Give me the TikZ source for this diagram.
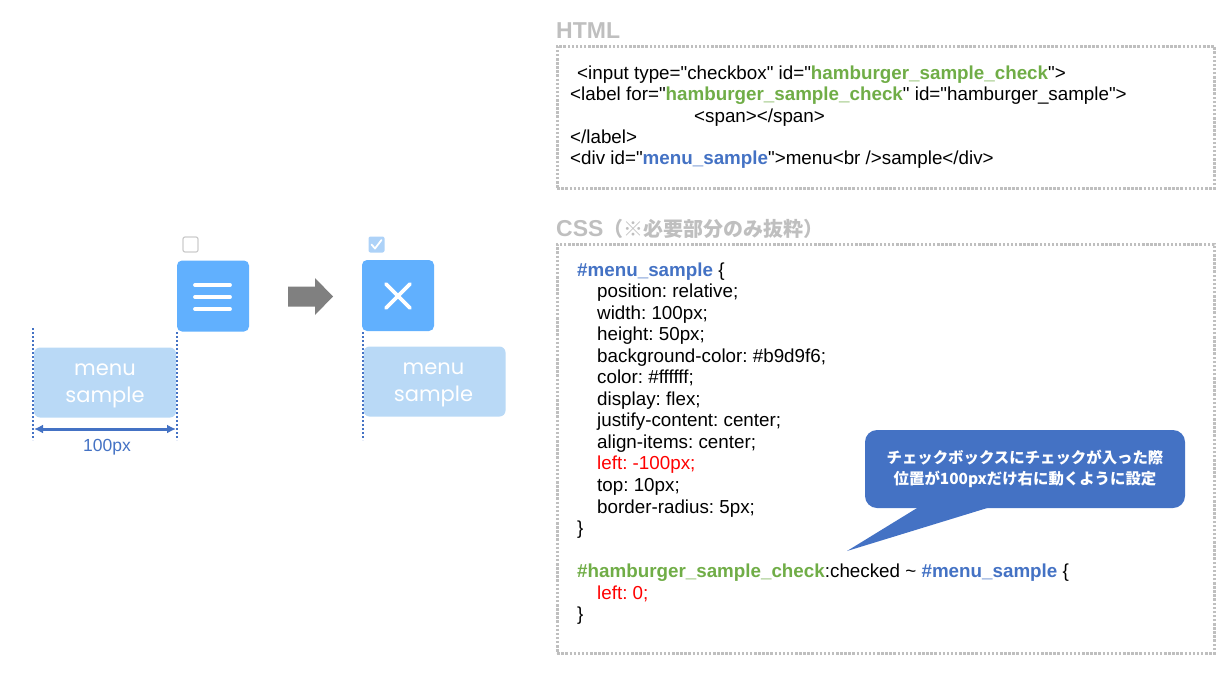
\documentclass[tikz,border=0pt]{standalone}
\usepackage{fontspec}
\setmainfont{Liberation Sans}[Ligatures=TeXOff]
\newfontfamily\jp{Noto Sans CJK JP}
\newfontfamily\pop{Poppins}
\usetikzlibrary{arrows.meta}
\definecolor{cgreen}{HTML}{70AD47}
\definecolor{cblue}{HTML}{4472C4}
\definecolor{cred}{HTML}{FF0000}
\definecolor{cgray}{HTML}{BFBFBF}
\definecolor{btnblue}{HTML}{61B0FE}
\definecolor{menubg}{HTML}{B9D9F6}
\definecolor{chkbg}{HTML}{ADD2F8}
\definecolor{arrowgray}{HTML}{808080}
\newcommand\grn[1]{\textcolor{cgreen}{\textbf{#1}}}
\newcommand\blu[1]{\textcolor{cblue}{\textbf{#1}}}
\newcommand\rd[1]{\textcolor{cred}{#1}}
\frenchspacing
\tikzset{
 code/.style={anchor=base west, inner sep=0pt, font=\fontsize{18.8}{22}\selectfont, text=black},
 ttl/.style={anchor=base west, inner sep=0pt, font=\bfseries\fontsize{23}{26}\selectfont, text=cgray},
 codebox/.style={draw=cgray, line width=2.5pt, dash pattern=on 2.5pt off 1.6pt, anchor=north west, inner sep=0pt},
 btn/.style={fill=btnblue, rounded corners=5pt, minimum width=72pt, minimum height=71pt, inner sep=0pt},
 menubox/.style={fill=menubg, rounded corners=6pt, minimum width=142pt, minimum height=70pt, inner sep=0pt},
 menutext/.style={text=white, align=center, inner sep=0pt, font=\pop\fontsize{21}{27}\selectfont},
 guide/.style={draw=cblue, line width=2.2pt, dash pattern=on 2.2pt off 1.8pt},
 icon/.style={draw=white, line width=3.8pt, line cap=round},
}
\begin{document}
\begin{tikzpicture}[x=1pt,y=-1pt]
\useasboundingbox (0,0) rectangle (1222,680);

% ---------- left illustration ----------
\node[draw=black!20, line width=1.2pt, rounded corners=2pt, minimum size=15pt, inner sep=0pt] (cbA) at (190.5,244.5) {};
\node[fill=chkbg, rounded corners=2pt, minimum size=16pt, inner sep=0pt] (cbB) at (376.5,244.5) {};
\draw[white, line width=1.8pt, line cap=round, line join=round] (371.5,244.5) -- (375,248.5) -- (381.5,240);

\node[btn] (ham) at (213,296) {};
\draw[icon] (195,285) -- (230,285);
\draw[icon] (195,297) -- (230,297);
\draw[icon] (195,309) -- (230,309);

\fill[arrowgray] (288,286.5) -- (315,286.5) -- (315,278) -- (333,296.5) -- (315,315) -- (315,306.5) -- (288,306.5) -- cycle;

\node[btn] (xbtn) at (398,295.5) {};
\draw[icon] (386,284) -- (410,308);
\draw[icon] (410,284) -- (386,308);

\node[menubox] (menuL) at (105,382.5) {};
\node[menutext] (menuLt) at (105,386) {menu\\sample};
\node[menubox] (menuR) at (434.5,381.5) {};
\node[menutext] (menuRt) at (433.5,385) {menu\\sample};

\coordinate (gA1) at (33,328);  \coordinate (gA2) at (33,440);
\coordinate (gB1) at (177,332); \coordinate (gB2) at (177,440);
\coordinate (gC1) at (363,332); \coordinate (gC2) at (363,440);
\draw[guide] (gA1) -- (gA2);
\draw[guide] (gB1) -- (gB2);
\draw[guide] (gC1) -- (gC2);

\coordinate (dimL) at (34,429);
\coordinate (dimR) at (176,429);
\draw[cblue, line width=3pt, {Latex[length=9pt,width=9pt]}-{Latex[length=9pt,width=9pt]}] (dimL) -- (dimR);
\node[text=cblue, inner sep=0pt, font=\fontsize{17.5}{19}\selectfont] (dimlbl) at (107,447) {100px};

% ---------- HTML ----------
\node[ttl] (htmlt) at (556,38) {HTML};
\node[codebox, minimum width=657pt, minimum height=142pt] (htmlbox) at (556,45) {};
\node[code] (h1) at (577,79) {<input type="checkbox" id="\grn{hamburger\_sample\_check}">};
\node[code] (h2) at (570,100.5) {<label for="\grn{hamburger\_sample\_check}" id="hamburger\_sample">};
\node[code] (h3) at (694,122) {<span></span>};
\node[code] (h4) at (570,143) {</label>};
\node[code] (h5) at (570,164.5) {<div id="\blu{menu\_sample}">menu<br />sample</div>};

% ---------- CSS ----------
\node[ttl] (csst) at (556,236) {CSS{\jp\fontsize{20}{24}\selectfont （※必要部分のみ抜粋）}};
\node[codebox, minimum width=657pt, minimum height=409pt] (cssbox) at (556,243) {};
\node[code] (c0) at (577,276) {\blu{\#menu\_sample} \{};
\node[code] (c1) at (597,297.55) {position: relative;};
\node[code] (c2) at (597,319.1) {width: 100px;};
\node[code] (c3) at (597,340.65) {height: 50px;};
\node[code] (c4) at (597,362.2) {background-color: \#b9d9f6;};
\node[code] (c5) at (597,383.75) {color: \#ffffff;};
\node[code] (c6) at (597,405.3) {display: flex;};
\node[code] (c7) at (597,426.85) {justify-content: center;};
\node[code] (c8) at (597,448.4) {align-items: center;};
\node[code] (c9) at (597,469.95) {\rd{left: -100px;}};
\node[code] (c10) at (597,491.5) {top: 10px;};
\node[code] (c11) at (597,513.05) {border-radius: 5px;};
\node[code] (c12) at (577,534.6) {\}};
\node[code] (c14) at (577,577.7) {\grn{\#hamburger\_sample\_check}:checked \textasciitilde{} \blu{\#menu\_sample} \{};
\node[code] (c15) at (597,599.25) {\rd{left: 0;}};
\node[code] (c16) at (577,620.8) {\}};

% ---------- callout ----------
\coordinate (tip) at (847,551);
\coordinate (pb1) at (922,505);
\coordinate (pb2) at (997,505);
\fill[cblue] (pb1) -- (tip) -- (pb2) -- cycle;
\node[fill=cblue, rounded corners=12pt, minimum width=320pt, minimum height=78pt, inner sep=0pt, text=white, align=center, font=\jp\bfseries\fontsize{15.4}{20.5}\selectfont] (note) at (1025,469) {チェックボックスにチェックが入った際\\位置が100pxだけ右に動くように設定};
\end{tikzpicture}
\end{document}
